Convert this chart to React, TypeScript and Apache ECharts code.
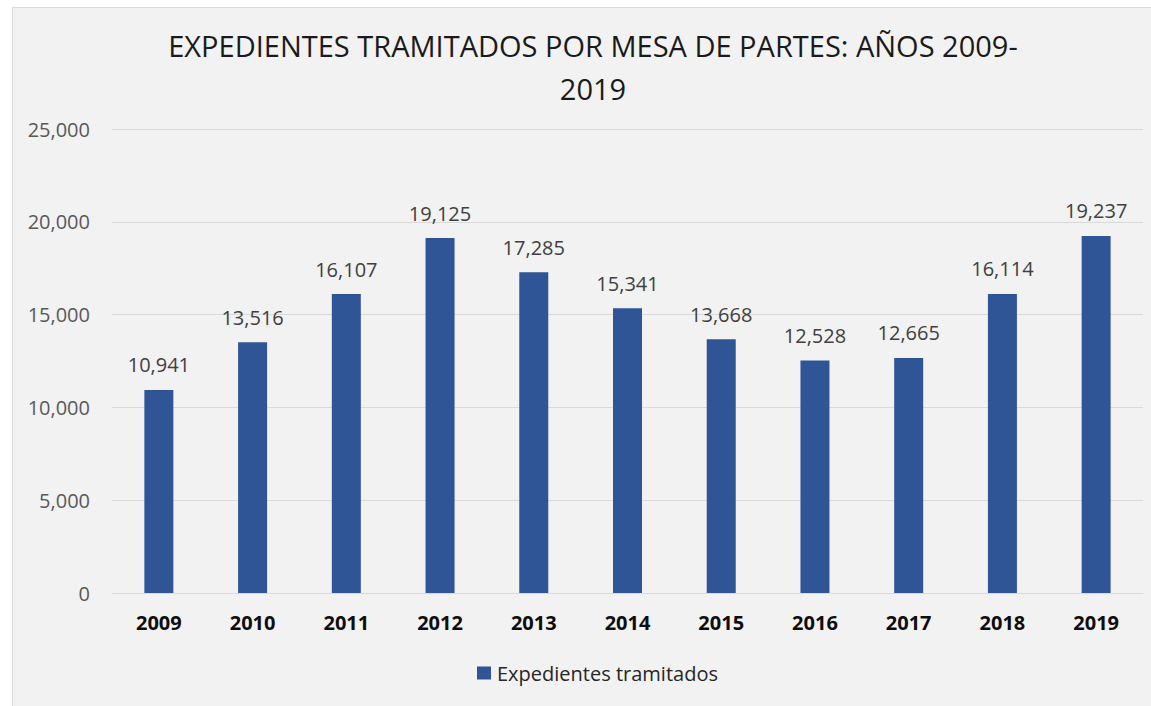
import React, { useEffect, useRef } from "react";
import * as echarts from "echarts";

const years = ["2009", "2010", "2011", "2012", "2013", "2014", "2015", "2016", "2017", "2018", "2019"];
const expedientes = [10941, 13516, 16107, 19125, 17285, 15341, 13668, 12528, 12665, 16114, 19237];
const seriesName = "Expedientes tramitados";
const titleText = "EXPEDIENTES TRAMITADOS POR MESA DE PARTES: AÑOS 2009-\n2019";

const FONT = "'Open Sans', 'Noto Sans', sans-serif";

export default function App() {
  const ref = useRef<HTMLDivElement>(null);
  useEffect(() => {
    if (!ref.current) return;
    const chart = echarts.init(ref.current, undefined, { renderer: "svg" });
    chart.setOption({
      animation: false,
      backgroundColor: "#ffffff",
      graphic: [
        {
          type: "rect",
          z: -10,
          shape: { x: 12.5, y: 7.5, width: 1200, height: 800 },
          style: { fill: "#f2f2f2", stroke: "#d9d9d9", lineWidth: 1 },
        },
      ],
      title: {
        text: titleText,
        left: 588,
        top: 19,
        textAlign: "center",
        textStyle: {
          fontFamily: FONT,
          fontSize: 29,
          fontWeight: "normal",
          color: "#1a1a1a",
          lineHeight: 43,
        },
      },
      legend: {
        top: 658,
        left: 472,
        itemWidth: 14,
        itemHeight: 13,
        itemGap: 10,
        icon: "rect",
        textStyle: { fontFamily: FONT, fontSize: 20, color: "#262626", padding: [0, 0, 0, 1] },
        data: [seriesName],
      },
      grid: { left: 112, right: 8, top: 129, bottom: 113, containLabel: false },
      xAxis: {
        type: "category",
        data: years,
        axisLine: { show: true, lineStyle: { color: "#d9d9d9", width: 1 } },
        axisTick: { show: false },
        axisLabel: {
          fontFamily: FONT,
          fontSize: 20,
          fontWeight: "bold",
          color: "#0d0d0d",
          margin: 19,
        },
      },
      yAxis: {
        type: "value",
        min: 0,
        max: 25000,
        interval: 5000,
        axisLine: { show: false },
        axisTick: { show: false },
        splitLine: { lineStyle: { color: "#d9d9d9", width: 1 } },
        axisLabel: {
          fontFamily: FONT,
          fontSize: 20,
          color: "#595959",
          margin: 22,
          formatter: (v: number) => v.toLocaleString("en-US"),
        },
      },
      series: [
        {
          name: seriesName,
          type: "bar",
          data: expedientes,
          barWidth: 29,
          itemStyle: { color: "#2f5597" },
          label: {
            show: true,
            position: "top",
            distance: 15,
            fontFamily: FONT,
            fontSize: 20,
            color: "#404040",
            formatter: (p: any) => Number(p.value).toLocaleString("en-US"),
          },
        },
      ],
    });
    return () => chart.dispose();
  }, []);
  return <div ref={ref} style={{ position: "fixed", left: 0, top: 0, width: 1151, height: 706 }} />;
}
